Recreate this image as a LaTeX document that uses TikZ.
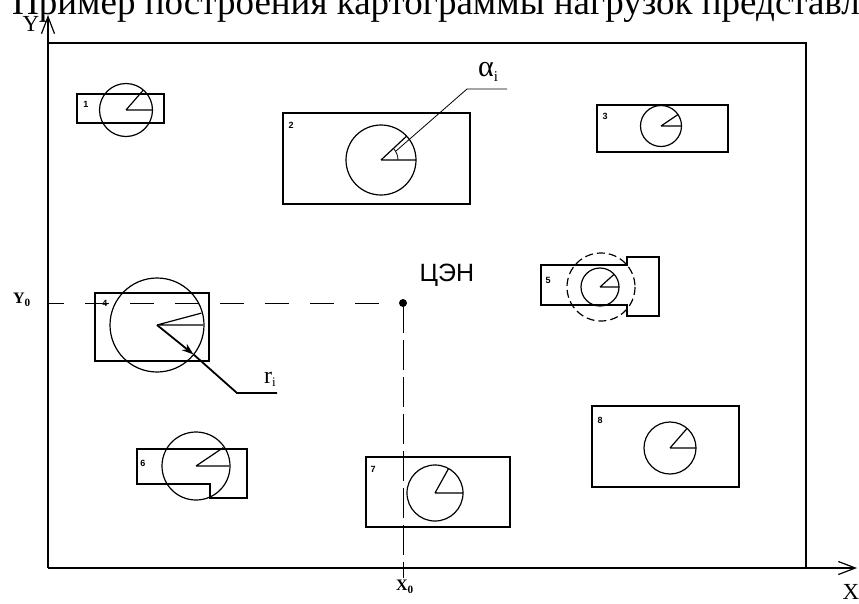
\documentclass[tikz,border=0pt]{standalone}
\usepackage{fontspec}
\setmainfont{Liberation Serif}
\newfontfamily\arialf{Liberation Sans}
\usetikzlibrary{arrows.meta}
\begin{document}
\begin{tikzpicture}[x=1pt,y=-1pt,
  axisline/.style={line width=2pt},
  frameline/.style={line width=2pt},
  boxline/.style={line width=1.5pt},
  loadline/.style={line width=1.2pt},
  thinline/.style={line width=0.8pt},
  numlbl/.style={font=\arialf\bfseries\fontsize{9}{9}\selectfont, inner sep=0pt},
  axlbl/.style={font=\fontsize{23}{23}\selectfont, inner sep=0pt},
  zerolbl/.style={font=\bfseries\fontsize{16}{16}\selectfont, inner sep=0pt},
  hdash/.style={thinline, dash pattern=on 24pt off 21pt, dash phase=8pt},
  vdash/.style={thinline, dash pattern=on 30pt off 7pt},
  barb/.style={-{Straight Barb[length=17pt,width=13pt,line width=1.2pt]}}]
\useasboundingbox (0,0) rectangle (859,603);
\clip (0,0) rectangle (859,603);

% title (cut at the top)
\node[anchor=base west, inner sep=0pt, font=\fontsize{37}{37}\selectfont] (title) at (12,14) {Пример построения картограммы нагрузок представлен};

% axes and frame
\coordinate (O) at (48,568);
\coordinate (Ytip) at (48,15);
\coordinate (Xtip) at (857,568);
\coordinate (FTL) at (48,43);
\coordinate (FTR) at (806,43);
\coordinate (FBR) at (806,568);
\draw[frameline] (FTL) -- (FTR) -- (FBR);
\draw[axisline, barb] (O) -- (Ytip);
\draw[axisline, barb] (O) -- (Xtip);
\node[axlbl] (ylab) at (31,24) {Y};
\node[axlbl] (xlab) at (851,592) {X};

% centre of loads
\coordinate (Yax) at (48,303);
\coordinate (C) at (403,303);
\coordinate (Xax) at (403,578);
\draw[hdash] (Yax) -- (C);
\draw[vdash] (C) -- (Xax);
\fill (C) circle (4);
\node[font=\arialf\fontsize{25}{25}\selectfont, inner sep=0pt] (cen) at (447,275) {ЦЭН};
\node[zerolbl] (y0) at (22,300) {Y\textsubscript{0}};
\node[zerolbl] (x0) at (405,587) {X\textsubscript{0}};

% load 1
\draw[boxline] (77,94) rectangle (164,123);
\node[numlbl] (n1) at (86,104) {1};
\coordinate (c1) at (126,110);
\draw[loadline] (c1) circle (26.5);
\draw[loadline] (c1) -- ++(26,0) (c1) -- ++(-49:26);

% load 2
\draw[boxline] (283,113) rectangle (470,204);
\node[numlbl] (n2) at (291,125) {2};
\coordinate (c2) at (381,160);
\draw[loadline] (c2) circle (35);
\draw[loadline] (c2) -- ++(35,0) (c2) -- ++(-43:35);
\draw[thinline] (c2) ++(17,0) arc[start angle=0, end angle=-43, radius=17];
\coordinate (l2a) at (396,151);
\coordinate (l2b) at (467,89);
\coordinate (l2c) at (507,89);
\draw[thinline] (l2a) -- (l2b) -- (l2c);
\node[font=\fontsize{30}{30}\selectfont, inner sep=0pt] (alpha) at (488,72) {α\raisebox{-0.35ex}{\fontsize{15}{15}\selectfont i}};

% load 3
\draw[boxline] (597,105) rectangle (728,152);
\node[numlbl] (n3) at (605,116) {3};
\coordinate (c3) at (661,126);
\draw[loadline] (c3) circle (20.5);
\draw[loadline] (c3) -- ++(20.5,0) (c3) -- ++(-34:20.5);

% load 4
\draw[boxline] (95,293) rectangle (209,361);
\node[numlbl] (n4) at (105,303) {4};
\coordinate (c4) at (157,325);
\draw[loadline] (c4) circle (47);
\draw[loadline] (c4) -- ++(46,0) (c4) -- ++(-15:46);
\coordinate (r4tip) at (193.6,354.5);
\coordinate (r4k) at (237,393);
\coordinate (r4e) at (277,393);
\draw[line width=1.8pt] (r4tip) -- (r4k) -- (r4e);
\draw[line width=1.8pt, -{Stealth[length=12pt,width=8pt]}] (c4) -- (r4tip);
\node[font=\fontsize{24}{24}\selectfont, inner sep=0pt] (rlab) at (270,379) {r\raisebox{-0.3ex}{\fontsize{13}{13}\selectfont i}};

% load 5
\draw[boxline] (541,265) -- (627,265) -- (627,257) -- (659,257) -- (659,316) -- (627,316) -- (627,305) -- (541,305) -- cycle;
\node[numlbl] (n5) at (548,280) {5};
\coordinate (c5) at (600,287);
\draw[loadline, dash pattern=on 8pt off 4pt] (601,287) circle (34);
\draw[loadline] (c5) circle (19);
\draw[loadline] (c5) -- ++(19,0) (c5) -- ++(-42:19);

% load 6
\draw[boxline] (137,449) -- (247,449) -- (247,498) -- (210,498) -- (210,484) -- (137,484) -- cycle;
\node[numlbl] (n6) at (143,463) {6};
\coordinate (c6) at (196,466);
\draw[loadline] (c6) circle (34);
\draw[loadline] (c6) -- ++(33,0) (c6) -- ++(-34:33);

% load 7
\draw[boxline] (366,457) rectangle (510,527);
\node[numlbl] (n7) at (373,469) {7};
\coordinate (c7) at (435,493);
\draw[loadline] (c7) circle (28);
\draw[loadline] (c7) -- ++(28,0) (c7) -- ++(-61:28);

% load 8
\draw[boxline] (592,406) rectangle (739,487);
\node[numlbl] (n8) at (600,420) {8};
\coordinate (c8) at (670,448);
\draw[loadline] (c8) circle (26);
\draw[loadline] (c8) -- ++(26,0) (c8) -- ++(-49:26);
\end{tikzpicture}
\end{document}
